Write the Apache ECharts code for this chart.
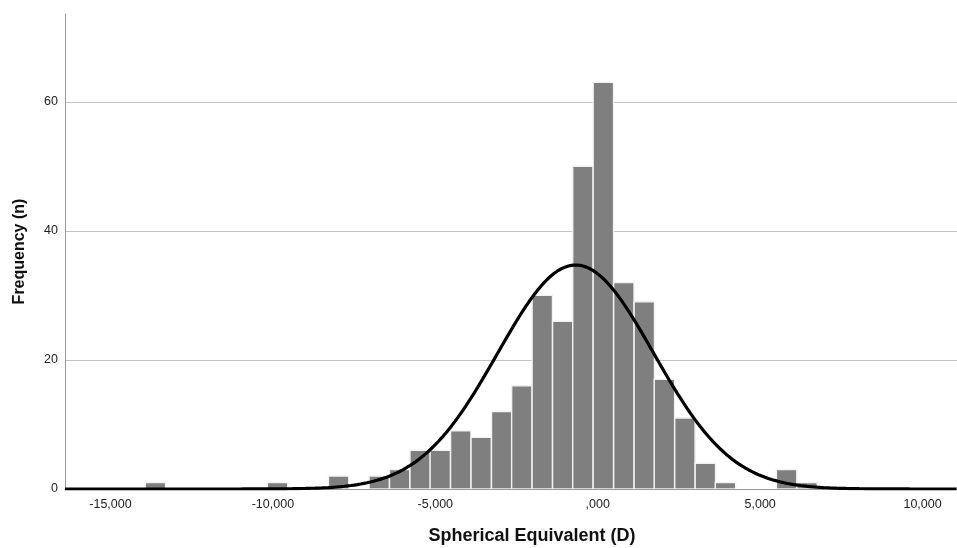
<!DOCTYPE html>
<html><head><meta charset="utf-8">
<script src="https://cdn.jsdelivr.net/npm/echarts@6/dist/echarts.min.js"></script>
<style>html,body{margin:0;padding:0;background:#fff}#c{width:957px;height:548px}</style>
</head><body><div id="c"></div>
<script>
// Histogram bins (lower edge in D) and counts
const binLeftEdges = [-13.93, -10.17, -8.29, -7.04, -6.41, -5.78, -5.16, -4.53, -3.90, -3.27, -2.65, -2.02, -1.39, -0.77, -0.14, 0.49, 1.12, 1.74, 2.37, 3.00, 3.62, 5.50, 6.13];
const binCounts    = [1, 1, 2, 2, 3, 6, 6, 9, 8, 12, 16, 30, 26, 50, 63, 32, 29, 17, 11, 4, 1, 3, 1];
const binWidth = 0.627;
// Fitted normal curve parameters
const fitMean = -0.68;
const fitSD = 2.40;
// Axes
const xTickValues = [-15, -10, -5, 0, 5, 10];
const xRange = [-16.4, 11.06];
const yRange = [0, 73.6];
const yStep = 20;

const totalN = binCounts.reduce((a, b) => a + b, 0);
const barData = binLeftEdges.map((x, i) => [x, binCounts[i]]);
const curve = [];
for (let x = xRange[0]; x <= xRange[1] + 1e-9; x += 0.05) {
  const z = (x - fitMean) / fitSD;
  curve.push([x, totalN * binWidth / (fitSD * Math.sqrt(2 * Math.PI)) * Math.exp(-0.5 * z * z)]);
}

function fmtX(v) {
  let s = Math.abs(v).toFixed(3).replace('.', ',');
  if (Math.abs(v) < 1) s = s.replace(/^0/, '');
  return (v < 0 ? '-' : '') + s;
}

const chart = echarts.init(document.getElementById('c'), null, {renderer: 'canvas'});
chart.setOption({
  animation: false,
  backgroundColor: '#fff',
  textStyle: {fontFamily: 'Liberation Sans, Arial, sans-serif'},
  grid: {left: 65, right: 0, top: 14, bottom: 59, containLabel: false, outerBoundsMode: 'none'},
  xAxis: {
    type: 'value', min: xRange[0], max: xRange[1],
    name: 'Spherical Equivalent (D)', nameLocation: 'middle', nameGap: 38,
    nameTextStyle: {fontSize: 18, fontWeight: 'bold', color: '#111', padding: [0, 0, 0, 42]},
    axisLine: {show: true, onZero: false, lineStyle: {color: '#999', width: 1}},
    axisTick: {show: false},
    splitLine: {show: false},
    axisLabel: {customValues: xTickValues, formatter: fmtX, fontSize: 12.5, color: '#222', margin: 9}
  },
  yAxis: {
    type: 'value', min: yRange[0], max: yRange[1], interval: yStep,
    name: 'Frequency (n)', nameLocation: 'middle', nameGap: 37,
    nameTextStyle: {fontSize: 16, fontWeight: 'bold', color: '#111'},
    axisLine: {show: true, onZero: false, lineStyle: {color: '#999', width: 1}},
    axisTick: {show: false},
    splitLine: {show: true, showMaxLine: false, lineStyle: {color: '#c4c4c4', width: 1}},
    axisLabel: {showMaxLabel: false, fontSize: 12.5, color: '#222', margin: 7}
  },
  series: [
    {
      type: 'custom', clip: true, z: 2,
      data: barData,
      renderItem: function (params, api) {
        const x0 = api.value(0), c = api.value(1);
        const p0 = api.coord([x0, c]);
        const p1 = api.coord([x0 + binWidth, 0]);
        return {
          type: 'rect',
          shape: {x: p0[0], y: p0[1], width: p1[0] - p0[0], height: p1[1] - p0[1]},
          style: {fill: '#7f7f7f', stroke: '#f2f2f2', lineWidth: 1.4}
        };
      }
    },
    {
      type: 'line', z: 3, data: curve, showSymbol: false, smooth: false,
      lineStyle: {color: '#000', width: 3.2}, silent: true
    }
  ]
});
</script></body></html>
